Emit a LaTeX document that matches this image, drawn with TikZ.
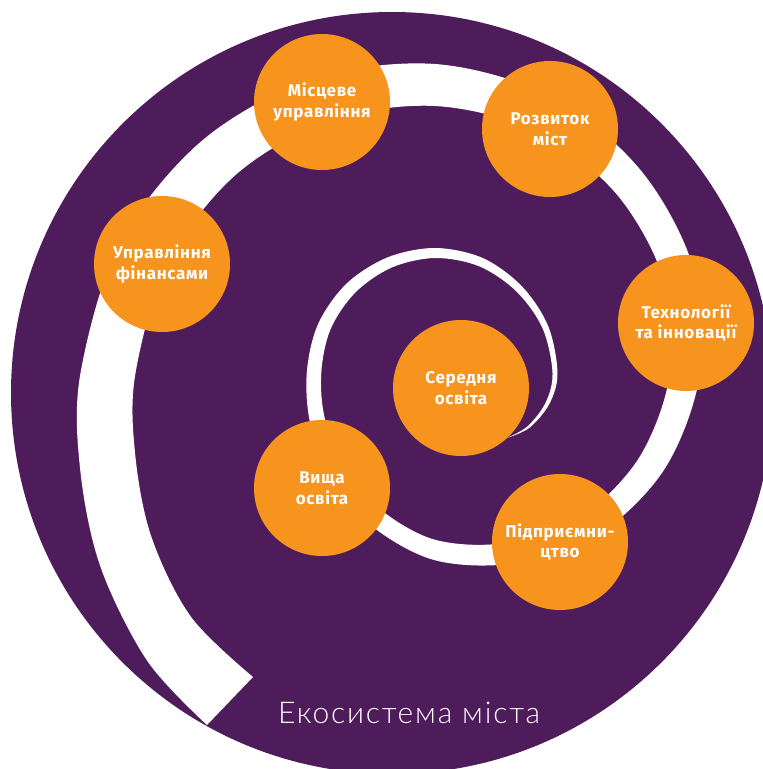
\documentclass[tikz,border=0pt]{standalone}
\usepackage{fontspec}
\setmainfont{Fira Sans}
\newfontfamily\topicfont{Fira Sans}[LetterSpace=4]
\newfontfamily\capfont{Lato Light}[LetterSpace=6]
\definecolor{ecopurple}{RGB}{78,28,90}
\definecolor{ecoorange}{RGB}{247,148,30}
\tikzset{
  topic/.style={circle, fill=ecoorange, minimum size=136pt, inner sep=0pt,
    text=white, align=center, font=\topicfont\bfseries\fontsize{17}{20.5}\selectfont},
  caption/.style={text=white, inner sep=0pt, anchor=base west,
    font=\capfont\fontsize{30}{30}\selectfont}
}
\begin{document}
\begin{tikzpicture}[x=1pt,y=-1pt]
\useasboundingbox (0,0) rectangle (763,769);
\clip (0,0) rectangle (763,769);
\fill[ecopurple] (392,393) circle (381);
% spiral band: centre line radius R and width W at angle t (y pointing down)
\foreach \n/\t/\r/\w in {
  1/135/376/62, 2/150/357/59, 3/165/339/57, 4/180/327/55, 5/202.5/315/52,
  6/225/305/48, 7/247.5/296/45, 8/270/288/42, 9/292.5/281/38, 10/315/272/34,
  11/337.5/263/32, 12/360/250/30, 13/382.5/235/28, 14/405/217/25,
  15/427.5/195/22, 16/450/177/20.5, 17/472.5/156/19, 18/495/138/17,
  19/517.5/127/15.5, 20/540/121/14.5, 21/562.5/120/13.5, 22/585/119.5/12.5,
  23/607.5/119.5/11, 24/630/120/10, 25/652.5/120/9, 26/675/119/7.5,
  27/697.5/119.5/6, 28/720/120/5, 29/735/116.5/4, 30/750/108/2.5}{
  \coordinate (o\n) at ({435+(\r+\w/2)*cos(\t)},{373+(\r+\w/2)*sin(\t)});
  \coordinate (i\n) at ({435+(\r-\w/2)*cos(\t)},{373+(\r-\w/2)*sin(\t)});
}
\coordinate (o0) at (207,725);
\coordinate (i0) at (253,677);
\coordinate (tip) at ({435+97*cos(762)},{373+97*sin(762)});
\begin{scope}
\clip (392,393) circle (381);
\fill[white] plot[smooth, tension=0.55] coordinates {
 (o0) (o1) (o2) (o3) (o4) (o5) (o6) (o7) (o8) (o9) (o10) (o11) (o12) (o13) (o14)
 (o15) (o16) (o17) (o18) (o19) (o20) (o21) (o22) (o23) (o24) (o25) (o26) (o27)
 (o28) (o29) (o30) (tip)}
 -- plot[smooth, tension=0.55] coordinates {
 (tip) (i30) (i29) (i28) (i27) (i26) (i25) (i24) (i23) (i22) (i21) (i20) (i19)
 (i18) (i17) (i16) (i15) (i14) (i13) (i12) (i11) (i10) (i9) (i8) (i7) (i6) (i5)
 (i4) (i3) (i2) (i1) (i0)} -- cycle;
\end{scope}
\node[topic] (mistseve) at (322,102) {Місцеве\\управління};
\node[topic] (rozvytok) at (550,129) {Розвиток\\міст};
\node[topic] (finansy) at (162,264) {Управління\\фінансами};
\node[topic] (tekhno) at (686,323) {Технології\\та інновації};
\node[topic] (serednia) at (461,388) {Середня\\освіта};
\node[topic] (vyshcha) at (322,488) {Вища\\освіта};
\node[topic] (pidpr) at (560,542) {Підприємни-\\цтво};
\node[caption] (eko) at (278,723) {Екосистема міста};
\end{tikzpicture}
\end{document}
